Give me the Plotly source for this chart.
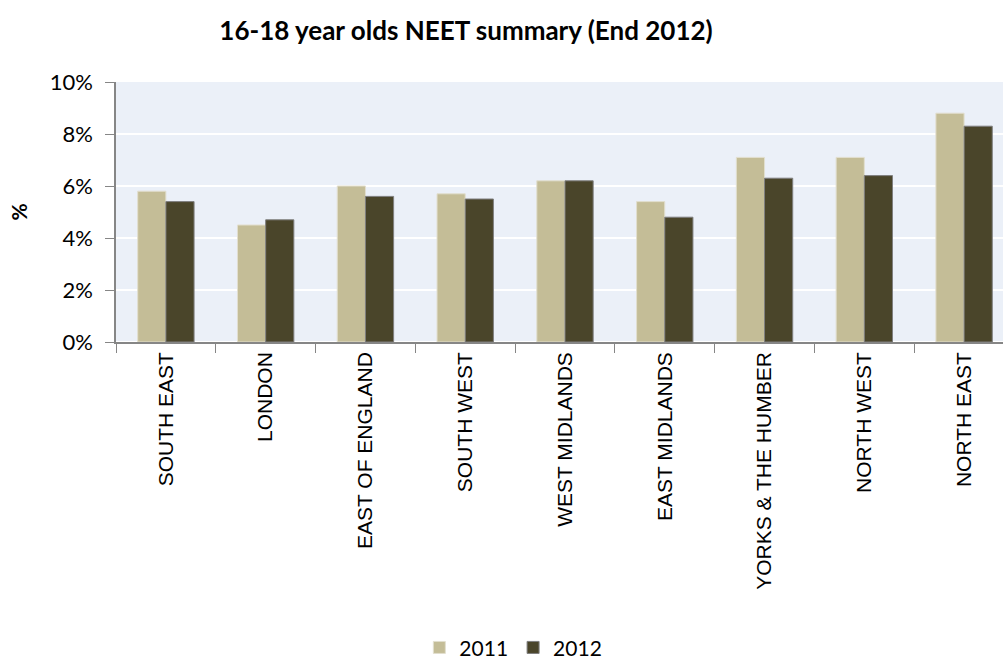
import plotly.graph_objects as go

categories = ["SOUTH EAST", "LONDON", "EAST OF ENGLAND", "SOUTH WEST", "WEST MIDLANDS",
              "EAST MIDLANDS", "YORKS & THE HUMBER", "NORTH WEST", "NORTH EAST"]
values_2011 = [5.8, 4.5, 6.0, 5.7, 6.2, 5.4, 7.1, 7.1, 8.8]
values_2012 = [5.4, 4.7, 5.6, 5.5, 6.2, 4.8, 6.3, 6.4, 8.3]
y_tick_vals = [0, 2, 4, 6, 8, 10]
y_tick_text = ["0%", "2%", "4%", "6%", "8%", "10%"]

fig = go.Figure()
fig.add_trace(go.Bar(name="2011", x=categories, y=values_2011,
                     marker=dict(color="#C4BD97", line=dict(color="#E2DFCF", width=1))))
fig.add_trace(go.Bar(name="2012", x=categories, y=values_2012,
                     marker=dict(color="#4A452A", line=dict(color="#7F7F7F", width=1))))

fig.update_layout(
    width=1003, height=661,
    margin=dict(l=116, r=0, t=82, b=319),
    paper_bgcolor="white", plot_bgcolor="#EBF0F8",
    barmode="group", bargap=0.435, bargroupgap=0,
    title=dict(text="<b>16-18 year olds NEET summary (End 2012)</b>",
               x=466 / 1003, xref="container", xanchor="center",
               y=1 - 31 / 661, yref="container", yanchor="middle",
               font=dict(family="Lato", size=26, color="black")),
    legend=dict(orientation="h", x=0.342, xanchor="left", y=0.02, yanchor="middle",
                yref="container", font=dict(family="Lato", size=21, color="black"),
                itemwidth=30, traceorder="normal"),
    showlegend=True,
)

fig.update_xaxes(type="category", range=[-0.5, 8.39], tickson="boundaries",
                 ticks="outside", ticklen=9, tickcolor="#868686", tickwidth=1,
                 showline=True, linecolor="#868686", linewidth=1.5,
                 tickangle=-90, tickfont=dict(family="Liberation Sans", size=21, color="black"),
                 showgrid=False)
fig.update_yaxes(range=[0, 10], tickvals=y_tick_vals, ticktext=y_tick_text,
                 ticks="outside", ticklen=9, tickcolor="#868686", tickwidth=1,
                 ticklabelstandoff=8,
                 showline=True, linecolor="#868686", linewidth=1.5,
                 showgrid=True, gridcolor="white", gridwidth=2,
                 tickfont=dict(family="Lato", size=22, color="black"),
                 title=dict(text="<b>%</b>", standoff=16, font=dict(family="Lato", size=21, color="black")))

fig.write_html("out.html", config={"displayModeBar": False},
               post_script="document.body.style.margin='0';document.body.style.padding='0';")
